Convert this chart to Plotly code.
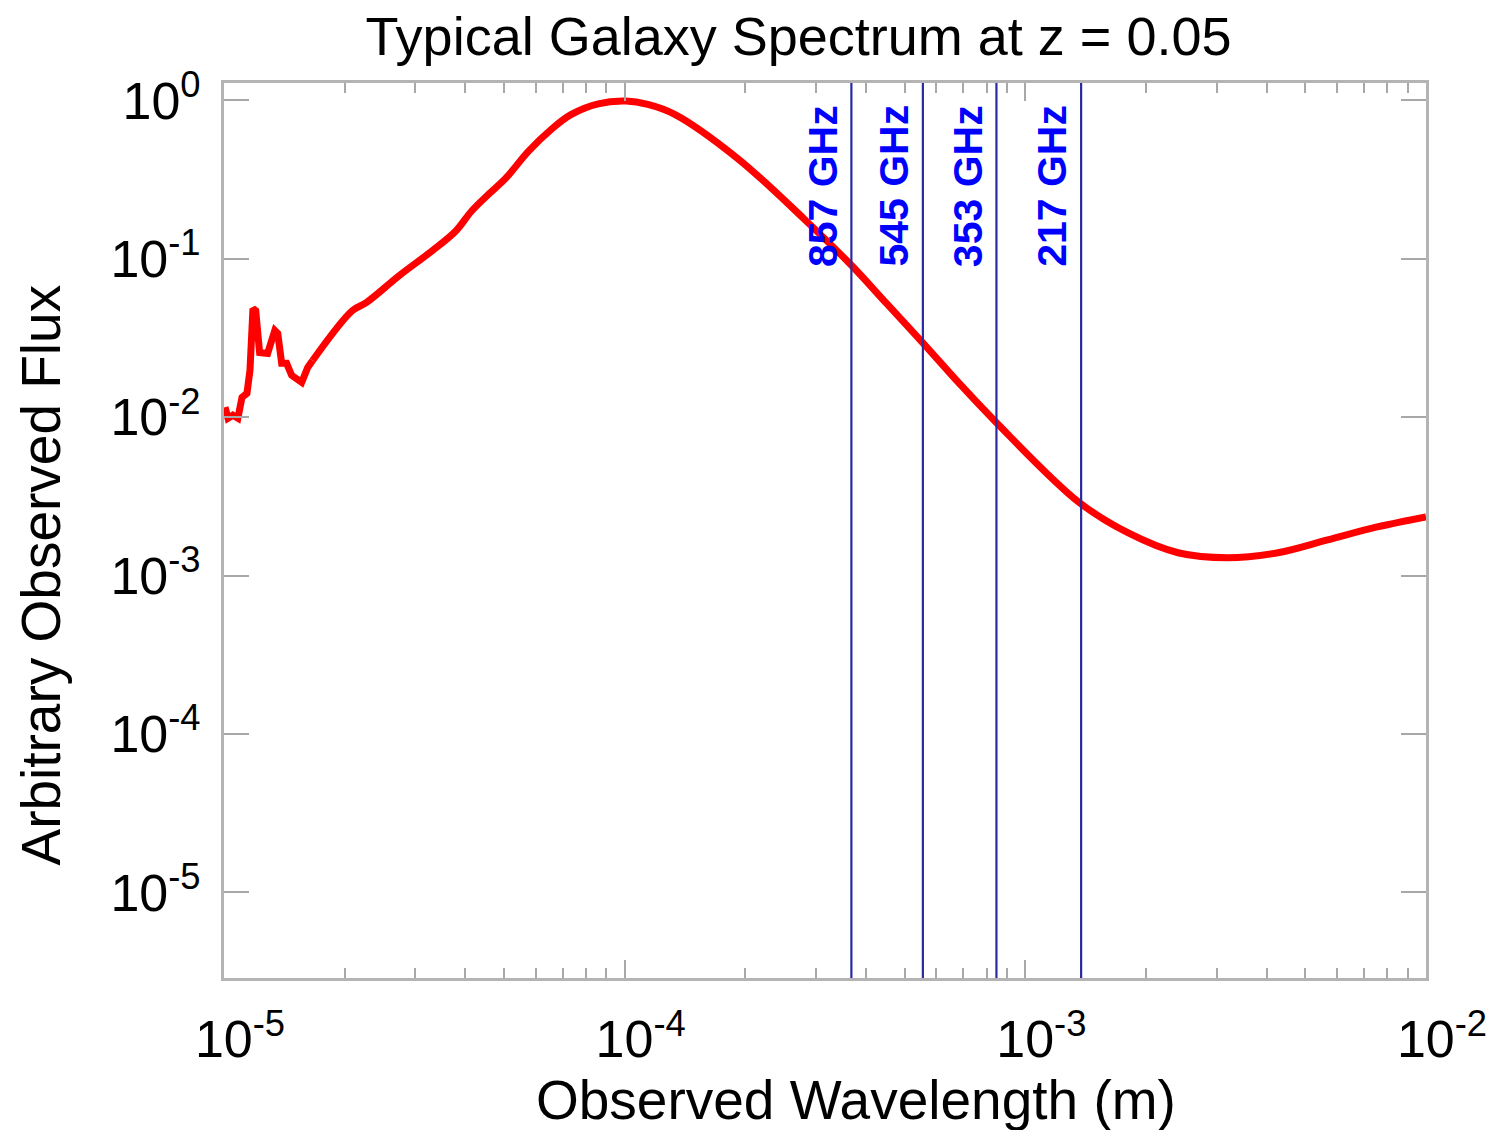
import numpy as np
import plotly.graph_objects as go

# ---- data ----
# noisy mid-infrared part of the spectrum
wavelength_ir_m = [1.006e-5, 1.023e-5, 1.052e-5, 1.083e-5, 1.109e-5, 1.141e-5, 1.161e-5, 1.181e-5,
                   1.200e-5, 1.227e-5, 1.285e-5, 1.339e-5, 1.362e-5, 1.393e-5, 1.433e-5, 1.475e-5,
                   1.563e-5, 1.618e-5, 1.664e-5]
flux_ir = [0.01156, 0.00986, 0.0103, 0.00986, 0.01336, 0.01416, 0.0198, 0.0485,
           0.0471, 0.0256, 0.0253, 0.0353, 0.0338, 0.0219, 0.0219, 0.0184,
           0.0166, 0.0206, 0.0228]
# smooth far-infrared / sub-mm part of the spectrum
wavelength_fir_m = [1.664e-5, 2.091e-5, 2.265e-5, 2.735e-5, 3.304e-5, 3.79e-5,
                    4.15e-5, 4.58e-5, 5.05e-5, 5.75e-5, 6.56e-5, 7.36e-5, 8.59e-5, 1.007e-4,
                    1.142e-4, 1.333e-4, 1.910e-4, 2.804e-4, 3.69e-4,
                    4.51e-4, 5.57e-4, 6.84e-4, 8.45e-4, 1.358e-3,
                    1.807e-3, 2.405e-3, 3.20e-3, 4.27e-3, 5.68e-3,
                    7.55e-3, 1.0e-2]
flux_fir = [0.0228, 0.0471, 0.0529, 0.0782, 0.1122, 0.150,
            0.2004, 0.2564, 0.323, 0.4775, 0.657, 0.816, 0.952, 0.99,
            0.944, 0.817, 0.432, 0.1786, 0.0904,
            0.0521, 0.0292, 0.01636, 0.0093, 0.00292,
            0.00186, 0.001395, 0.001297, 0.001395, 0.00168,
            0.00203, 0.00235]

band_labels = ["857 GHz", "545 GHz", "353 GHz", "217 GHz"]
band_wavelength_m = [3.68e-4, 5.55e-4, 8.47e-4, 1.378e-3]

x_tick_vals = [1e-5, 1e-4, 1e-3, 1e-2]
x_tick_text = ["10<sup>-5</sup>", "10<sup>-4</sup>", "10<sup>-3</sup>", "10<sup>-2</sup>"]
y_tick_vals = [1e0, 1e-1, 1e-2, 1e-3, 1e-4, 1e-5]
y_tick_text = ["10<sup>0</sup>", "10<sup>-1</sup>", "10<sup>-2</sup>", "10<sup>-3</sup>",
               "10<sup>-4</sup>", "10<sup>-5</sup>"]

x_range_log = [-5, -2]
y_range_log = [-5.54, 0.11]

FONT = "Liberation Sans, Arial, sans-serif"
AXIS_GREY = "#b4b4b4"
TICK_GREY = "#a8a8a8"
LINE_BLUE = "#2a2aa0"

minor_x = [m * 10.0 ** e for e in range(-5, -2) for m in range(2, 10)]

fig = go.Figure()

fig.add_trace(go.Scatter(x=wavelength_ir_m, y=flux_ir, mode="lines",
                         line=dict(color="#ff0000", width=7), showlegend=False,
                         hoverinfo="skip"))
fig.add_trace(go.Scatter(x=wavelength_fir_m, y=flux_fir, mode="lines",
                         line=dict(color="#ff0000", width=7, shape="spline", smoothing=1.0),
                         showlegend=False, hoverinfo="skip"))

y_lo, y_hi = 10 ** y_range_log[0], 10 ** y_range_log[1]
for wl in band_wavelength_m:
    fig.add_trace(go.Scatter(x=[wl, wl], y=[y_lo, y_hi], mode="lines",
                             line=dict(color=LINE_BLUE, width=2.2), showlegend=False,
                             hoverinfo="skip"))

annotations = []
for lab, wl in zip(band_labels, band_wavelength_m):
    annotations.append(dict(x=np.log10(wl), xref="x", y=0.978, yref="paper",
                            text=lab, textangle=-90, showarrow=False,
                            xanchor="right", yanchor="top", xshift=-4,
                            font=dict(family=FONT, size=41, color="#0000ff", weight="bold")))

annotations.append(dict(x=0.526, xref="paper", y=-0.136, yref="paper",
                        text="Observed Wavelength (m)", showarrow=False,
                        xanchor="center", yanchor="middle",
                        font=dict(family=FONT, size=55, color="#000000")))
annotations.append(dict(x=-0.152, xref="paper", y=0.45, yref="paper",
                        text="Arbitrary Observed Flux", showarrow=False, textangle=-90,
                        xanchor="center", yanchor="middle",
                        font=dict(family=FONT, size=55, color="#000000")))

fig.update_layout(
    width=1499, height=1130,
    margin=dict(l=224, r=67, t=83, b=152),
    paper_bgcolor="white", plot_bgcolor="white",
    showlegend=False,
    title=dict(text="Typical Galaxy Spectrum at z = 0.05", x=0.478, xref="paper",
               xanchor="center", y=1 - 36 / 1130, yref="container", yanchor="middle",
               font=dict(family=FONT, size=54, color="#000000")),
    annotations=annotations,
)

fig.update_xaxes(type="log", range=x_range_log, showgrid=False, zeroline=False,
                 showline=True, linecolor=AXIS_GREY, linewidth=3, mirror="allticks",
                 ticks="inside", ticklen=18, tickwidth=1.5, tickcolor=TICK_GREY,
                 tickmode="array", tickvals=x_tick_vals, ticktext=x_tick_text,
                 tickfont=dict(family=FONT, size=52, color="#000000"),
                 ticklabelstandoff=14, ticklabelshift=16,
                 minor=dict(tickmode="array", tickvals=minor_x, ticks="inside",
                            ticklen=10, tickwidth=1.5, tickcolor=TICK_GREY, showgrid=False))

fig.update_yaxes(type="log", range=y_range_log, showgrid=False, zeroline=False,
                 showline=True, linecolor=AXIS_GREY, linewidth=3, mirror="allticks",
                 ticks="inside", ticklen=25, tickwidth=1.5, tickcolor=TICK_GREY,
                 tickmode="array", tickvals=y_tick_vals, ticktext=y_tick_text,
                 tickfont=dict(family=FONT, size=52, color="#000000"),
                 ticklabelstandoff=10)

fig.write_html("out.html")
